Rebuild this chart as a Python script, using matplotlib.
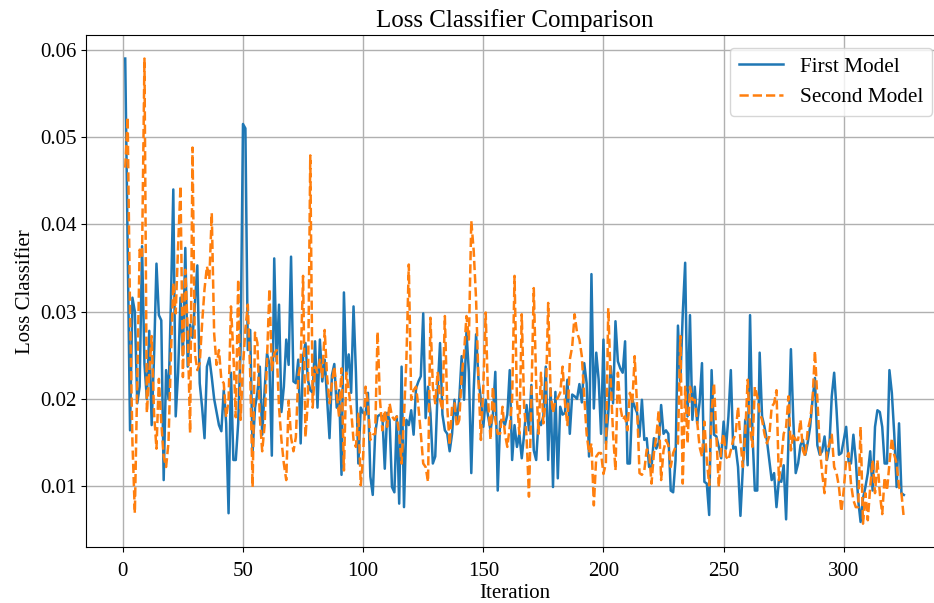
import numpy as np
import matplotlib
matplotlib.use("Agg")
import matplotlib.pyplot as plt

plt.rcParams['font.family'] = ['Liberation Serif', 'DejaVu Serif']

first_model = [
    0.059, 0.038, 0.0164, 0.0316, 0.030, 0.0195, 0.0214, 0.0375, 0.024, 0.020,
    0.0278, 0.017, 0.025, 0.0355, 0.0296, 0.029, 0.0107, 0.0233, 0.020, 0.031,
    0.044, 0.018, 0.023, 0.0316, 0.025, 0.0373, 0.0237, 0.0285, 0.027, 0.031,
    0.0353, 0.0218, 0.019, 0.0155, 0.0237, 0.0247, 0.0225, 0.020, 0.0185, 0.017,
    0.0163, 0.021, 0.0172, 0.0069, 0.023, 0.013, 0.013, 0.0172, 0.0256, 0.0515,
    0.051, 0.0256, 0.0279, 0.0139, 0.019, 0.0207, 0.0237, 0.0159, 0.021, 0.0252,
    0.024, 0.0135, 0.0361, 0.0243, 0.0308, 0.0185, 0.0214, 0.0268, 0.0239, 0.0363,
    0.022, 0.0218, 0.0245, 0.0149, 0.0249, 0.0264, 0.0222, 0.021, 0.0207, 0.0266,
    0.019, 0.0268, 0.022, 0.0245, 0.020, 0.0155, 0.0227, 0.024, 0.019, 0.021,
    0.0113, 0.0322, 0.023, 0.0251, 0.0207, 0.0306, 0.023, 0.0126, 0.019, 0.0184,
    0.0182, 0.0207, 0.0111, 0.009, 0.016, 0.018, 0.0182, 0.018, 0.012, 0.0184,
    0.0176, 0.0099, 0.0093, 0.018, 0.008, 0.0237, 0.0076, 0.0176, 0.017, 0.0187,
    0.0159, 0.0212, 0.022, 0.0226, 0.0298, 0.0178, 0.0214, 0.0184, 0.0126, 0.0134,
    0.021, 0.0264, 0.0182, 0.0164, 0.016, 0.014, 0.016, 0.0199, 0.0174, 0.020,
    0.0249, 0.0199, 0.0277, 0.023, 0.0115, 0.021, 0.0274, 0.0222, 0.0199, 0.0168,
    0.0199, 0.018, 0.0164, 0.0182, 0.0231, 0.0095, 0.0174, 0.0176, 0.017, 0.0182,
    0.0233, 0.013, 0.017, 0.0145, 0.016, 0.0132, 0.016, 0.0193, 0.0164, 0.0216,
    0.0141, 0.013, 0.0176, 0.017, 0.018, 0.0237, 0.013, 0.0212, 0.0099, 0.0208,
    0.0109, 0.0191, 0.0182, 0.0184, 0.0222, 0.016, 0.0205, 0.0203, 0.020, 0.0217,
    0.0196, 0.0241, 0.0218, 0.0134, 0.0343, 0.0189, 0.0253, 0.0222, 0.016, 0.0268,
    0.0149, 0.0184, 0.0237, 0.0195, 0.0289, 0.0243, 0.0235, 0.023, 0.0266, 0.0126,
    0.0126, 0.0199, 0.0191, 0.0184, 0.0157, 0.0199, 0.0153, 0.0155, 0.0122, 0.0122,
    0.0155, 0.0143, 0.015, 0.0193, 0.016, 0.0164, 0.016, 0.0095, 0.0093, 0.013,
    0.0284, 0.022, 0.0298, 0.0356, 0.018, 0.0296, 0.0176, 0.0214, 0.0172, 0.0196,
    0.0241, 0.0105, 0.0103, 0.0067, 0.0233, 0.0159, 0.0157, 0.0145, 0.0132, 0.0174,
    0.0143, 0.018, 0.0233, 0.0143, 0.0145, 0.0122, 0.0066, 0.0122, 0.0176, 0.0124,
    0.0296, 0.016, 0.0095, 0.0095, 0.0253, 0.018, 0.0168, 0.0153, 0.013, 0.0107,
    0.0115, 0.0076, 0.0107, 0.0105, 0.0124, 0.0062, 0.0153, 0.0257, 0.0176, 0.0115,
    0.0126, 0.0147, 0.0153, 0.0136, 0.015, 0.0168, 0.0199, 0.0224, 0.0147, 0.0136,
    0.014, 0.0157, 0.013, 0.0145, 0.0203, 0.023, 0.0187, 0.0136, 0.0138, 0.0153,
    0.0168, 0.0128, 0.0126, 0.0159, 0.013, 0.0084, 0.0059, 0.0086, 0.0099, 0.0115,
    0.014, 0.0095, 0.0168, 0.0187, 0.0185, 0.0168, 0.0126, 0.0126, 0.0233, 0.0207,
    0.016, 0.0099, 0.0172, 0.0092, 0.009,
]

second_model = [
    0.0465, 0.0523, 0.030, 0.015, 0.0069, 0.022, 0.0371, 0.0364, 0.059, 0.0184,
    0.023, 0.0272, 0.0183, 0.0143, 0.0223, 0.0173, 0.0134, 0.0122, 0.015, 0.0249,
    0.0333, 0.0298, 0.0375, 0.0444, 0.0225, 0.0348, 0.0279, 0.0161, 0.0488, 0.0252,
    0.0233, 0.0241, 0.0287, 0.0326, 0.0352, 0.0337, 0.0413, 0.0275, 0.0239, 0.0256,
    0.0222, 0.0218, 0.0179, 0.0198, 0.0306, 0.0252, 0.0179, 0.0337, 0.0176, 0.0237,
    0.028, 0.0308, 0.023, 0.0099, 0.0276, 0.0264, 0.0179, 0.014, 0.017, 0.0245,
    0.0326, 0.0233, 0.0252, 0.0256, 0.019, 0.0153, 0.0126, 0.0107, 0.0198, 0.0156,
    0.014, 0.0156, 0.0225, 0.0241, 0.0341, 0.0156, 0.0198, 0.0479, 0.019, 0.0237,
    0.023, 0.0245, 0.0225, 0.0279, 0.0225, 0.0195, 0.0218, 0.0237, 0.0206, 0.0179,
    0.0235, 0.0118, 0.023, 0.021, 0.0187, 0.0153, 0.0145, 0.0183, 0.0101, 0.0134,
    0.0214, 0.0195, 0.0153, 0.0159, 0.016, 0.0277, 0.0199, 0.0164, 0.0187, 0.0168,
    0.0195, 0.018, 0.0176, 0.018, 0.016, 0.0126, 0.018, 0.0245, 0.0354, 0.0199,
    0.021, 0.0214, 0.0191, 0.016, 0.0126, 0.0122, 0.0105, 0.0293, 0.0214, 0.0195,
    0.0231, 0.0199, 0.0187, 0.0295, 0.0191, 0.0147, 0.0191, 0.0195, 0.0168, 0.0176,
    0.0226, 0.0253, 0.0295, 0.0268, 0.0404, 0.037, 0.0314, 0.022, 0.0153, 0.0214,
    0.0299, 0.0199, 0.0153, 0.0214, 0.0176, 0.016, 0.016, 0.0191, 0.016, 0.0145,
    0.0168, 0.0199, 0.0341, 0.0199, 0.016, 0.0297, 0.0191, 0.0157, 0.0088, 0.0199,
    0.0327, 0.0218, 0.016, 0.023, 0.0172, 0.0199, 0.031, 0.0207, 0.0184, 0.0199,
    0.0201, 0.0207, 0.0237, 0.0195, 0.017, 0.0245, 0.026, 0.0297, 0.0276, 0.0268,
    0.0249, 0.0203, 0.016, 0.0138, 0.0149, 0.0078, 0.0134, 0.0138, 0.0138, 0.0114,
    0.0126, 0.0304, 0.0222, 0.016, 0.0118, 0.023, 0.0191, 0.0176, 0.018, 0.0164,
    0.0207, 0.0195, 0.0249, 0.0191, 0.0115, 0.0113, 0.0118, 0.0142, 0.014, 0.0103,
    0.0138, 0.0157, 0.0187, 0.0107, 0.0141, 0.0153, 0.0147, 0.0122, 0.0138, 0.0145,
    0.0149, 0.0272, 0.0103, 0.0214, 0.0149, 0.0214, 0.0199, 0.0199, 0.0174, 0.0145,
    0.0134, 0.0174, 0.013, 0.0101, 0.0184, 0.0218, 0.0157, 0.0099, 0.0145, 0.016,
    0.0134, 0.013, 0.0141, 0.0153, 0.016, 0.0191, 0.0153, 0.0122, 0.016, 0.0222,
    0.0168, 0.0145, 0.0214, 0.0203, 0.0184, 0.0176, 0.016, 0.0149, 0.0157, 0.0191,
    0.0195, 0.021, 0.0107, 0.013, 0.016, 0.0168, 0.0203, 0.0141, 0.016, 0.0153,
    0.0153, 0.0176, 0.0141, 0.0134, 0.0164, 0.0176, 0.0199, 0.0255, 0.0199, 0.0145,
    0.0115, 0.0092, 0.0138, 0.0149, 0.0159, 0.0122, 0.0115, 0.0099, 0.0071, 0.0096,
    0.013, 0.0138, 0.0103, 0.0084, 0.0076, 0.0076, 0.0168, 0.0057, 0.0092, 0.0061,
    0.0099, 0.013, 0.0092, 0.013, 0.0092, 0.0068, 0.011, 0.0095, 0.0126, 0.0155,
    0.0136, 0.0126, 0.0099, 0.0092, 0.0063,
]

iter_first = np.arange(1, len(first_model) + 1)
iter_second = np.arange(1, len(second_model) + 1)

title = "Loss Classifier Comparison"
xlabel = "Iteration"
ylabel = "Loss Classifier"
labels = ["First Model", "Second Model"]

fig = plt.figure(figsize=(9.34, 6.03), dpi=100)
ax = fig.add_axes([0.0924, 0.0924, 0.917, 0.8496])

ax.plot(iter_first, first_model, color='#1f77b4', linestyle='-', linewidth=1.8, label=labels[0])
ax.plot(iter_second, second_model, color='#ff7f0e', linestyle='--', linewidth=1.8, label=labels[1])

ax.set_xlim(-15.2, 341.2)
ax.set_ylim(0.0030, 0.0617)
ax.set_xticks([0, 50, 100, 150, 200, 250, 300])
ax.set_yticks([0.01, 0.02, 0.03, 0.04, 0.05, 0.06])

ax.set_title(title, fontsize=18)
ax.set_xlabel(xlabel, fontsize=15, labelpad=2)
ax.set_ylabel(ylabel, fontsize=15)
ax.tick_params(labelsize=15)
ax.tick_params(axis='x', pad=7)
ax.grid(True, color='#b0b0b0', linewidth=1.0)
ax.legend(loc='upper right', fontsize=15.3, handlelength=2.1,
          bbox_to_anchor=(1.0, 0.995))

fig.savefig("out.png", dpi=100)
